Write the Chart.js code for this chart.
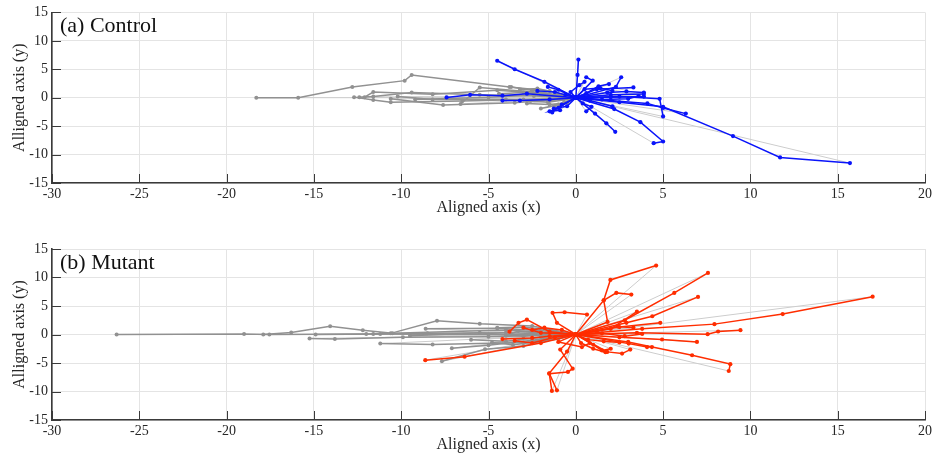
<!DOCTYPE html>
<html><head><meta charset="utf-8">
<script src="https://cdn.jsdelivr.net/npm/chart.js@4"></script>
<style>html,body{margin:0;padding:0;background:#fff;} canvas{display:block;}</style>
</head><body>
<canvas id="c1" width="935" height="228"></canvas>
<canvas id="c2" width="935" height="228"></canvas>
<script>
// ---------------- DATA ----------------
const panelTitles = ['(a) Control', '(b) Mutant'];
const xAxisLabel = 'Aligned axis (x)';
const yAxisLabel = 'Alligned axis (y)';
const xTickValues = [-30, -25, -20, -15, -10, -5, 0, 5, 10, 15, 20];
const yTickValues = [-15, -10, -5, 0, 5, 10, 15];

// Control: gray trajectories (each a list of [x, y])
const controlGrayTracks = [
  [[0,0],[-1.5,1.2],[-3.8,1.9],[-9.4,4.0],[-9.8,3.0],[-12.8,1.9],[-15.9,0],[-18.3,0]],
  [[0,0],[-2.0,0.8],[-4.5,1.3],[-8.2,0.6],[-11.6,1.0],[-12.1,0.1]],
  [[0,0],[-2.4,0.3],[-5.5,0.5],[-9.4,0.9],[-11.6,0.2],[-12.4,0.1]],
  [[0,0],[-3.0,-0.3],[-6.5,-0.6],[-10.6,-0.8],[-11.6,-0.4],[-12.7,0.1]],
  [[0,0],[-3.5,-0.9],[-7.6,-1.3],[-10.6,-0.2]],
  [[0,0],[-1.5,-0.5],[-4.0,-0.3],[-8.2,-0.3],[-10.2,0.2]],
  [[0,0],[-2.0,0.5],[-5.0,0.1],[-9.2,-0.3]],
  [[0,0],[-1.0,0.4],[-2.5,1.3],[-3.7,1.9]],
  [[0,0],[-1.0,-1.2],[-2.0,-1.9],[-1.2,-1.4]],
  [[0,0],[-1.2,0.9],[-2.2,1.6],[-3.2,1.4]],
  [[0,0],[-0.7,-0.4],[-1.6,-0.8],[-2.6,-0.6]],
  [[0,0],[-2.5,1.0],[-5.5,1.8],[-6.6,-1.1]],
  [[0,0],[-0.8,0.2],[-1.9,0.6],[-3.0,0.9],[-4.4,0.7]],
  [[0,0],[-0.5,-0.9],[-1.5,-1.2],[-2.8,-1.0]]
];

// Control: blue trajectories
const controlBlueTracks = [
  [[0,0],[-1.8,2.8],[-3.5,5.0],[-4.5,6.5]],
  [[0,0],[0.1,4.0],[0.15,6.7]],
  [[0,0],[2.3,1.9],[2.6,3.6]],
  [[0,0],[1.2,1.5],[3.3,1.8]],
  [[0,0],[0.97,3.0],[0.6,3.6]],
  [[0,0],[2.0,0.5],[3.9,0.65]],
  [[0,0],[2.0,0.1],[3.9,0.2]],
  [[0,0],[2.5,-0.8],[5.0,-1.6],[9.0,-6.75],[11.7,-10.5],[15.7,-11.5]],
  [[0,0],[2.5,0.2],[4.8,-0.2],[5.0,-3.3]],
  [[0,0],[4.1,-1.0],[5.0,-1.8],[6.3,-2.8]],
  [[0,0],[2.2,-2.0],[3.7,-4.3],[5.0,-7.7],[4.46,-8.0]],
  [[0,0],[1.1,-2.8],[1.75,-4.5],[2.26,-6.0]],
  [[0,0],[-2.8,0.7],[-4.2,0.35],[-6.05,0.5],[-7.4,0.05]],
  [[0,0],[-1.5,-0.3],[-3.2,-0.5],[-4.2,-0.5]],
  [[0,0],[-0.8,-1.2],[-1.35,-2.6]],
  [[0,0],[-0.5,-1.5],[-1.26,-1.9]],
  [[0,0],[-1.0,1.4],[-1.6,1.9]],
  [[0,0],[0.8,-0.5],[2.1,-1.5]],
  [[0,0],[0.5,1.5],[1.4,1.7],[2.1,1.2]],
  [[0,0],[0.6,0.8],[1.3,2.0],[1.9,2.4]],
  [[0,0],[-0.6,0.5],[-1.2,1.0],[-2.2,1.2]],
  [[0,0],[1.5,-0.3],[3.0,-0.2],[3.6,0.3]],
  [[0,0],[0.4,-1.0],[0.9,-1.6],[0.6,-2.4]],
  [[0,0],[-0.3,1.0],[0.2,2.2],[0.5,2.8]],
  [[0,0],[1.8,0.9],[2.9,1.1],[3.9,0.9]],
  [[0,0],[-1.0,-1.8],[-1.5,-2.4],[-0.9,-2.2]]
];

// Mutant: gray trajectories
const mutantGrayTracks = [
  [[0,0],[-4.0,0.3],[-8.5,0.2],[-12.0,0.1],[-17.55,0],[-19.0,0.1],[-26.3,0]],
  [[0,0],[-4.0,0.8],[-10.5,0.2],[-12.2,0.75],[-14.07,1.45],[-16.3,0.35],[-17.9,0]],
  [[0,0],[-5.0,-0.4],[-9.9,-0.5],[-13.8,-0.8],[-15.25,-0.7]],
  [[0,0],[-5.0,0.0],[-11.2,0.1],[-14.9,0.0]],
  [[0,0],[-3.0,-1.4],[-8.2,-1.75],[-11.2,-1.6]],
  [[0,0],[-2.5,1.5],[-5.5,1.9],[-7.95,2.4],[-10.6,0.2],[-11.6,0.1]],
  [[0,0],[-3.0,-2.0],[-5.2,-2.6],[-7.67,-4.7]],
  [[0,0],[-2.5,-1.0],[-5.0,-1.9],[-7.1,-2.4]],
  [[0,0],[-2.0,0.7],[-4.5,1.1],[-8.6,1.0]],
  [[0,0],[-1.5,0.8],[-3.0,1.3],[-4.5,1.2]],
  [[0,0],[-2.0,-0.5],[-4.0,-1.2],[-6.0,-0.9]],
  [[0,0],[-1.5,0.3],[-3.0,-0.3],[-5.5,0.3],[-9.5,-0.2]],
  [[0,0],[-1.0,-0.8],[-2.3,-1.3],[-3.6,-1.8],[-4.8,-1.4]],
  [[0,0],[-0.8,0.5],[-2.0,0.2],[-3.3,0.6],[-4.0,-0.2]]
];

// Mutant: red trajectories
const mutantRedTracks = [
  [[0,0],[1.82,2.2],[1.6,6.0],[1.98,9.57],[4.6,12.1]],
  [[0,0],[2.8,2.5],[5.64,7.3],[7.57,10.8]],
  [[0,0],[2.9,2.05],[4.38,3.2],[7.0,6.6]],
  [[0,0],[3.8,1.0],[7.94,1.82],[11.85,3.58],[17.0,6.63]],
  [[0,0],[3.5,0.3],[7.55,0.06],[8.15,0.53],[9.43,0.76]],
  [[0,0],[2.5,-0.5],[4.94,-0.88],[6.94,-1.3]],
  [[0,0],[3.0,-1.3],[6.66,-3.64],[8.85,-5.2],[8.76,-6.4]],
  [[0,0],[-1.08,2.05],[-1.33,3.8],[-0.64,3.9],[0.64,3.5]],
  [[0,0],[1.6,6.0],[2.32,7.3],[3.18,7.0]],
  [[0,0],[-0.89,-2.64],[-0.18,-6.0],[-0.45,-6.57],[-1.52,-6.87],[-1.37,-9.9]],
  [[0,0],[-0.5,-3.0],[-1.52,-6.8],[-1.08,-9.8]],
  [[0,0],[-2.0,-1.5],[-6.37,-3.9],[-8.62,-4.5]],
  [[0,0],[-1.5,0.5],[-2.8,2.6],[-3.28,2.05],[-3.8,0.5]],
  [[0,0],[1.8,-3.05],[2.65,-3.35],[3.12,-2.64]],
  [[0,0],[2.0,1.0],[3.5,4.0]],
  [[0,0],[2.5,1.3],[4.84,2.05]],
  [[0,0],[3.03,-1.6],[4.08,-2.2],[4.36,-2.2]],
  [[0,0],[-1.0,-1.3],[0.35,-2.2],[0.8,-1.5]],
  [[0,0],[1.0,-1.8],[1.5,-2.8],[2.0,-2.5]],
  [[0,0],[-2.0,0.3],[-3.0,1.2]],
  [[0,0],[-1.5,-0.3],[-2.5,-0.6],[-4.2,-0.8]],
  [[0,0],[1.2,0.6],[2.4,1.4],[3.3,1.2]],
  [[0,0],[-0.8,0.8],[-1.8,1.2],[-2.5,0.8]],
  [[0,0],[0.7,-0.9],[1.6,-1.2],[2.5,-1.4]],
  [[0,0],[-1.2,-0.5],[-2.5,-1.5],[-3.5,-1.1]],
  [[0,0],[1.5,0.2],[2.8,-0.3],[3.8,0.1]],
  [[0,0],[0.3,-1.5],[1.0,-2.5],[1.7,-3.1]]
];

// ---------------- STYLE ----------------
const FONT = "'Liberation Serif', 'DejaVu Serif', serif";
const GRAY = 'rgb(145,145,145)';
const LIGHT = 'rgb(205,205,205)';
const BLUE = 'rgb(10,20,250)';
const RED = 'rgb(255,45,0)';
const AXIS = '#3a3a3a';
const TEXT = '#262626';

function toPts(track){ return track.map(p => ({x:p[0], y:p[1]})); }

function buildDatasets(grayTracks, colorTracks, color){
  const ds = [];
  grayTracks.concat(colorTracks).forEach(t => {
    const end = t[t.length-1];
    ds.push({data:[{x:t[0][0],y:t[0][1]},{x:end[0],y:end[1]}], showLine:true, borderColor:LIGHT,
      borderWidth:1, pointRadius:0, order:3});
  });
  grayTracks.forEach(t => ds.push({data:toPts(t), showLine:true, borderColor:GRAY, backgroundColor:GRAY,
      borderWidth:1.5, pointRadius:2, pointStyle:'circle', pointBorderWidth:0, order:2}));
  colorTracks.forEach(t => ds.push({data:toPts(t), showLine:true, borderColor:color, backgroundColor:color,
      borderWidth:1.5, pointRadius:2.1, pointStyle:'circle', pointBorderWidth:0, order:1}));
  return ds;
}

const overlay = {
  id:'overlay',
  beforeDatasetsDraw(chart){
    const {ctx, chartArea:a, scales:{x, y}} = chart;
    ctx.save();
    ctx.strokeStyle = AXIS; ctx.lineWidth = 1;
    xTickValues.forEach(v => { const px = Math.round(x.getPixelForValue(v))+0.5;
      ctx.beginPath(); ctx.moveTo(px, a.bottom); ctx.lineTo(px, a.bottom-9); ctx.stroke(); });
    yTickValues.forEach(v => { const py = Math.round(y.getPixelForValue(v))+0.5;
      ctx.beginPath(); ctx.moveTo(a.left, py); ctx.lineTo(a.left+9, py); ctx.stroke(); });
    ctx.restore();
  },
  afterDraw(chart, args, opts){
    const {ctx, chartArea:a} = chart;
    ctx.save();
    ctx.fillStyle = '#111';
    ctx.font = "22px " + FONT;
    ctx.textBaseline = 'middle';
    ctx.textAlign = 'left';
    ctx.fillText(opts.label, a.left + 8, a.top + 14);
    ctx.restore();
  }
};

function makeChart(id, grayTracks, colorTracks, color, label, padTop, xHeight, titlePadBottom){
  new Chart(document.getElementById(id), {
    type:'scatter',
    data:{datasets: buildDatasets(grayTracks, colorTracks, color)},
    options:{
      responsive:false, animation:false,
      layout:{padding:{top:padTop, right:10, left:0, bottom:0}},
      plugins:{legend:{display:false}, tooltip:{enabled:false}, overlay:{label:label}},
      scales:{
        x:{type:'linear', min:-30, max:20, bounds:'ticks',
          afterBuildTicks(s){ s.ticks = xTickValues.map(v => ({value:v})); },
          ticks:{color:TEXT, font:{family:FONT, size:14}, padding:3, maxRotation:0},
          grid:{color:'#e4e4e4', lineWidth:1, drawTicks:false},
          border:{display:true, color:AXIS, width:1.6},
          title:{display:true, text:xAxisLabel, color:TEXT, font:{family:FONT, size:16}, padding:{top:0, bottom:titlePadBottom}},
          afterFit(s){ s.height = xHeight; }
        },
        y:{type:'linear', min:-15, max:15,
          afterBuildTicks(s){ s.ticks = yTickValues.map(v => ({value:v})); },
          ticks:{color:TEXT, font:{family:FONT, size:14}, padding:4},
          grid:{color:'#e4e4e4', lineWidth:1, drawTicks:false},
          border:{display:true, color:AXIS, width:1.6},
          title:{display:true, text:yAxisLabel, color:TEXT, font:{family:FONT, size:16}, padding:{top:10, bottom:0}},
          afterFit(s){ s.width = 52; }
        }
      }
    },
    plugins:[overlay]
  });
}

makeChart('c1', controlGrayTracks, controlBlueTracks, BLUE, panelTitles[0], 12, 45, 11);
makeChart('c2', mutantGrayTracks, mutantRedTracks, RED, panelTitles[1], 21, 36, 2);
</script>
</body></html>
